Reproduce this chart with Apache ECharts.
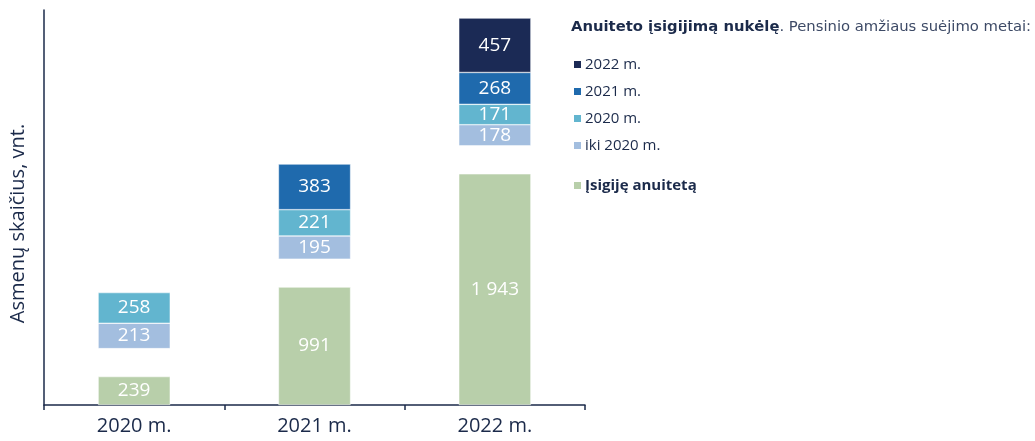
<!DOCTYPE html>
<html>
<head>
<meta charset="utf-8">
<script src="https://cdn.jsdelivr.net/npm/echarts@6/dist/echarts.min.js"></script>
<style>
  html, body { margin: 0; padding: 0; background: #fff; }
  #chart { width: 1035px; height: 441px; }
</style>
</head>
<body>
<div id="chart"></div>
<script>
const years = ['2020 m.', '2021 m.', '2022 m.'];
const bought = [239, 991, 1943];
const before2020 = [213, 195, 178];
const y2020 = [258, 221, 171];
const y2021 = [null, 383, 268];
const y2022 = [null, null, 457];

const GAP = 235; // blank space between the green bar and the deferred stack
const navy = '#1b2a4a';
const font = '"Open Sans", "Noto Sans", sans-serif';

const fmt = v => String(v).replace(/\B(?=(\d{3})+(?!\d))/g, ' ');

const label = {
    show: true,
    position: 'inside',
    color: '#fff',
    fontSize: 19,
    fontFamily: font,
    formatter: p => (p.value == null ? '' : fmt(p.value)),
};

const bar = (name, data, color) => ({
    name,
    type: 'bar',
    stack: 'total',
    barWidth: '40%',
    data,
    itemStyle: { color, borderColor: '#fff', borderWidth: 0.5 },
    label,
    emphasis: { disabled: true },
});

const chart = echarts.init(document.getElementById('chart'));
chart.setOption({
    animation: false,
    textStyle: { fontFamily: font },
    title: {
        left: 566,
        top: 15,
        text: '{b|Anuiteto įsigijimą nukėlę}{n|. Pensinio amžiaus suėjimo metai:}',
        textStyle: {
            rich: {
                b: { fontSize: 14.8, fontWeight: 'bold', color: navy, fontFamily: '"DejaVu Sans", sans-serif' },
                n: { fontSize: 14.8, fontWeight: 'normal', color: '#3d4a66', fontFamily: '"DejaVu Sans", sans-serif' },
            },
        },
    },
    legend: [
        {
            data: ['2022 m.', '2021 m.', '2020 m.', 'iki 2020 m.'],
            orient: 'vertical',
            left: 567,
            top: 52,
            itemWidth: 9,
            itemHeight: 9,
            itemGap: 12,
            icon: 'rect',
            textStyle: { fontSize: 15, color: navy, fontFamily: font, padding: [0, 0, 0, -2] },
        },
        {
            data: ['Įsigiję anuitetą'],
            orient: 'vertical',
            left: 567,
            top: 173,
            itemWidth: 9,
            itemHeight: 9,
            icon: 'rect',
            textStyle: { fontSize: 15, color: navy, fontWeight: 'bold', fontFamily: font, padding: [0, 0, 0, -2] },
        },
    ],
    grid: { left: 44, right: 450, top: 10, bottom: 36, outerBoundsMode: 'none' },
    xAxis: {
        type: 'category',
        data: years,
        axisLine: { lineStyle: { color: navy, width: 1.5 } },
        axisTick: { show: true, length: 5, lineStyle: { color: navy, width: 1.5 } },
        axisLabel: { fontSize: 20, color: navy, fontFamily: font, margin: 11 },
    },
    yAxis: {
        type: 'value',
        min: 0,
        max: 3320,
        name: 'Asmenų skaičius, vnt.',
        nameLocation: 'middle',
        nameGap: 16,
        nameTextStyle: { fontSize: 20, color: navy, fontFamily: font, padding: [0, 32, 0, 0] },
        axisLine: { show: true, lineStyle: { color: navy, width: 1.5 } },
        axisTick: { show: false },
        axisLabel: { show: false },
        splitLine: { show: false },
    },
    series: [
        bar('Įsigiję anuitetą', bought, '#b8cfaa'),
        {
            name: 'gap',
            type: 'bar',
            stack: 'total',
            barWidth: '40%',
            data: years.map(() => GAP),
            itemStyle: { color: 'transparent' },
            emphasis: { disabled: true },
            silent: true,
        },
        bar('iki 2020 m.', before2020, '#a3bedf'),
        bar('2020 m.', y2020, '#62b5cf'),
        bar('2021 m.', y2021, '#1f6aad'),
        bar('2022 m.', y2022, '#1b2a55'),
    ],
});
</script>
</body>
</html>
